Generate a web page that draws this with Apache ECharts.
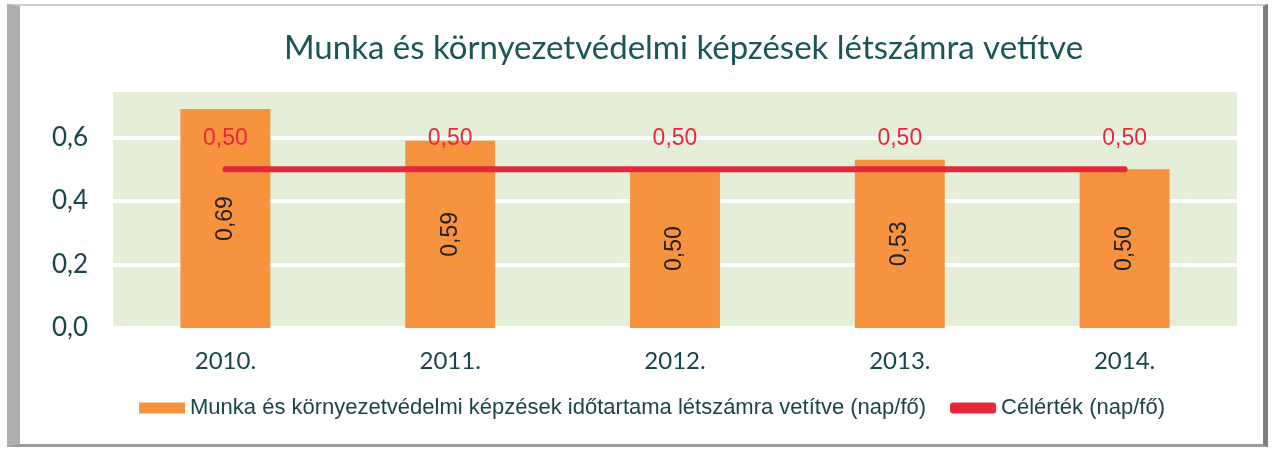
<!DOCTYPE html>
<html>
<head>
<meta charset="utf-8">
<script src="https://cdn.jsdelivr.net/npm/echarts@6/dist/echarts.min.js"></script>
<style>
    html, body { margin: 0; padding: 0; background: #fff; }
    #frame {
        position: absolute; left: 7px; top: 4px; width: 1243px; height: 438px;
        border-left: 13px solid #aeaeb3; border-top: 2px solid #cfcfd3;
        border-right: 5px solid #7d7d80; border-bottom: 3px solid #9a9a9e;
    }
    #chart { position: absolute; left: 0; top: 0; width: 1279px; height: 451px; }
</style>
</head>
<body>
<div id="frame"></div>
<div id="chart"></div>
<script>
// 數據
const years = ['2010.', '2011.', '2012.', '2013.', '2014.'];
const kepzesValues = [0.69, 0.59, 0.50, 0.53, 0.50];
const celertekValues = [0.50, 0.50, 0.50, 0.50, 0.50];
const barName = 'Munka és környezetvédelmi képzések időtartama létszámra vetítve (nap/fő)';
const lineName = 'Célérték (nap/fő)';

const fmt = v => v.toFixed(2).replace('.', ',');

const chart = echarts.init(document.getElementById('chart'));
chart.setOption({
    animation: false,
    backgroundColor: 'transparent',
    title: {
        text: 'Munka és környezetvédelmi képzések létszámra vetítve',
        left: 279,
        top: 27,
        textStyle: { fontFamily: 'Lato', fontSize: 33, fontWeight: 'normal', color: '#1c5558' }
    },
    grid: {
        left: 113, right: 42, top: 90, bottom: 123,
        show: true, backgroundColor: '#e5eed8', borderWidth: 0
    },
    legend: {
        top: 392,
        left: 134,
        itemWidth: 46,
        itemHeight: 11,
        itemGap: 24,
        textStyle: { fontFamily: 'Arial', fontSize: 22, color: '#1a4548' },
        data: [
            { name: barName, icon: 'rect' },
            { name: lineName, icon: 'roundRect' }
        ]
    },
    xAxis: {
        type: 'category',
        data: years,
        axisLine: { show: false },
        axisTick: { show: false },
        axisLabel: { fontFamily: 'Lato', fontSize: 24, color: '#17474a', margin: 21 }
    },
    yAxis: {
        type: 'value',
        min: 0,
        max: 0.75,
        interval: 0.2,
        axisLabel: {
            fontFamily: 'Lato', fontSize: 26, color: '#17474a', margin: 25,
            showMaxLabel: false,
            formatter: v => v.toFixed(1).replace('.', ',')
        },
        splitLine: { lineStyle: { color: '#ffffff', width: 4 } }
    },
    series: [
        {
            name: barName,
            type: 'bar',
            data: kepzesValues,
            barWidth: '40%',
            itemStyle: { color: '#f7923f' },
            label: {
                show: true, position: 'inside', rotate: 90,
                fontFamily: 'Arial', fontSize: 23, color: '#222',
                formatter: p => fmt(p.value)
            }
        },
        {
            name: lineName,
            type: 'line',
            data: celertekValues,
            symbol: 'circle',
            symbolSize: 2,
            lineStyle: { color: '#e6283d', width: 6, cap: 'round' },
            itemStyle: { color: '#e6283d' },
            label: {
                show: true, position: 'top', distance: 18,
                fontFamily: 'Arial', fontSize: 23, color: '#e6283d',
                formatter: p => fmt(p.value)
            }
        }
    ]
});
</script>
</body>
</html>
